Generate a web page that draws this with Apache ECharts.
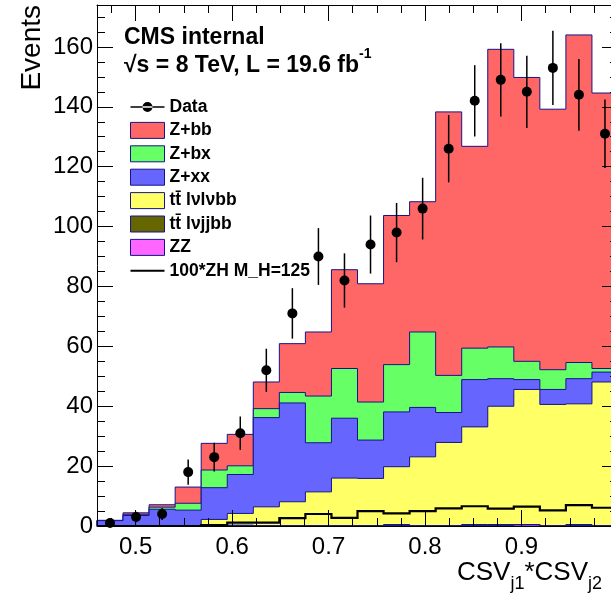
<!DOCTYPE html>
<html>
<head>
<meta charset="utf-8">
<script src="https://cdn.jsdelivr.net/npm/echarts@6/dist/echarts.min.js"></script>
<style>
  html, body { margin: 0; padding: 0; background: #ffffff; }
  #chart { width: 611px; height: 603px; }
</style>
</head>
<body>
<div id="chart"></div>
<script>
// Histogram binning of CSV_j1*CSV_j2 (20 bins from 0.46 to 1.0)
const binEdges = [0.460, 0.487, 0.514, 0.541, 0.568, 0.595, 0.622, 0.649, 0.676, 0.703,
                  0.730, 0.757, 0.784, 0.811, 0.838, 0.865, 0.892, 0.919, 0.946, 0.973, 1.000];

// Observed events per bin
const dataCounts = [1, 3, 4, 18, 23, 31, 52, 71, 90, 82, 94, 98, 106, 126, 142, 149, 145, 153, 144, 131];

// Simulated backgrounds per bin (events)
const zbb  = [0.1, 0.5, 0.8, 5.4, 8.9, 10.5, 8.9, 16.3, 21.4, 33.0, 39.5, 49.8, 43.5, 88.0, 67.4, 99.4, 94.8, 87.0, 109.4, 92.0];
const zbx  = [0.0, 0.4, 0.7, 2.3, 5.9, 2.9, 3.0, 3.5, 15.6, 16.6, 12.7, 15.8, 25.2, 12.4, 10.5, 10.6, 6.1, 6.6, 5.4, 1.2];
const zxx  = [1.8, 3.5, 5.6, 5.3, 10.6, 13.0, 29.8, 33.0, 16.4, 20.0, 12.8, 18.3, 16.5, 10.0, 15.8, 9.2, 3.3, 5.0, 8.4, 3.3];
const ttLL = [0, 0, 0, 0, 2.2, 3.9, 6.4, 8.1, 11.4, 16.0, 15.9, 19.3, 23.1, 27.9, 32.6, 39.5, 45.1, 40.6, 40.3, 48.1];
const ttLJ = [0, 0, 0, 0, 0, 0.3, 0, 0, 0, 0, 0, 0.5, 0, 0, 0.5, 0.5, 0, 0, 0.5, 0];
const zz   = [0, 0, 0, 0, 0, 0, 0, 0, 0, 0, 0, 0, 0, 0, 0, 0, 0.5, 0, 0, 0];

// Signal (ZH, M_H = 125 GeV) scaled by 100, not stacked
const zh100 = [0, 0, 0, 0, 0.3, 1.1, 1.1, 2.6, 4.0, 2.7, 5.0, 4.2, 5.0, 5.9, 6.6, 5.8, 6.5, 5.2, 7.0, 6.1];

// Axis ticks and labels
const xMajorTicks = [0.5, 0.6, 0.7, 0.8, 0.9, 1.0];
const xMinorTicks = [0.475, 0.525, 0.55, 0.575, 0.625, 0.65, 0.675, 0.725, 0.75, 0.775,
                     0.825, 0.85, 0.875, 0.925, 0.95, 0.975];
const xTickLabels = [0.5, 0.6, 0.7, 0.8, 0.9];
const yMajorTicks = [0, 20, 40, 60, 80, 100, 120, 140, 160];
const yMinorTicks = [5, 10, 15, 25, 30, 35, 45, 50, 55, 65, 70, 75, 85, 90, 95,
                     105, 110, 115, 125, 130, 135, 145, 150, 155, 165, 170];

const FONT = '"Liberation Sans", Arial, Helvetica, sans-serif';
const OUTLINE = '#14148c';

// Stack, bottom to top
const layers = [
  { name: 'ZZ',            values: zz,   color: '#ff66ff' },
  { name: 'tt\u0304 l\u03bdjjbb',   values: ttLJ, color: '#666600' },
  { name: 'tt\u0304 l\u03bdl\u03bdbb', values: ttLL, color: '#ffff66' },
  { name: 'Z+xx',          values: zxx,  color: '#6666ff' },
  { name: 'Z+bx',          values: zbx,  color: '#66ff66' },
  { name: 'Z+bb',          values: zbb,  color: '#ff6666' }
];
let running = new Array(dataCounts.length).fill(0);
layers.forEach(l => {
  running = running.map((v, i) => v + l.values[i]);
  l.cumulative = running.slice();
});

function stepOutline(api, tops, closeToZero) {
  const pts = [];
  if (closeToZero) pts.push(api.coord([binEdges[0], 0]));
  for (let i = 0; i < tops.length; i++) {
    pts.push(api.coord([binEdges[i], tops[i]]));
    pts.push(api.coord([binEdges[i + 1], tops[i]]));
  }
  if (closeToZero) pts.push(api.coord([binEdges[binEdges.length - 1], 0]));
  return pts;
}

// Drawn largest first so each smaller stack sits on top
const stackSeries = layers.slice().reverse().map(l => ({
  type: 'custom',
  name: l.name,
  coordinateSystem: 'cartesian2d',
  xAxisIndex: 0, yAxisIndex: 0,
  silent: true,
  data: [[binEdges[0], 0]],
  renderItem: (params, api) => ({
    type: 'polygon',
    shape: { points: stepOutline(api, l.cumulative, true) },
    style: { fill: l.color, stroke: OUTLINE, lineWidth: 1 }
  })
}));

const zhSeries = {
  type: 'custom',
  name: '100*ZH M_H=125',
  coordinateSystem: 'cartesian2d',
  xAxisIndex: 0, yAxisIndex: 0,
  silent: true,
  data: [[binEdges[0], 0]],
  renderItem: (params, api) => ({
    type: 'polyline',
    shape: { points: stepOutline(api, zh100, false) },
    style: { fill: null, stroke: '#000000', lineWidth: 2.2 }
  })
};

const binCenters = dataCounts.map((_, i) => (binEdges[i] + binEdges[i + 1]) / 2);
const dataSeries = {
  type: 'custom',
  name: 'Data',
  coordinateSystem: 'cartesian2d',
  xAxisIndex: 0, yAxisIndex: 0,
  silent: true,
  z: 5,
  data: dataCounts.map((c, i) => [binCenters[i], c]),
  renderItem: (params, api) => {
    const x = api.value(0), n = api.value(1), err = Math.sqrt(n);
    const p = api.coord([x, n]);
    const lo = api.coord([x, n - err]);
    const hi = api.coord([x, n + err]);
    return {
      type: 'group',
      children: [
        { type: 'line', shape: { x1: p[0], y1: lo[1], x2: p[0], y2: hi[1] },
          style: { stroke: '#000000', lineWidth: 1.5 } },
        { type: 'circle', shape: { cx: p[0], cy: p[1], r: 5 },
          style: { fill: '#000000' } }
      ]
    };
  }
};

function xAxisDef(position, ticks, len, withLine, withLabels) {
  return {
    type: 'value', position: position, min: binEdges[0], max: binEdges[binEdges.length - 1],
    z: 10,
    axisLine: { show: withLine, onZero: false, lineStyle: { color: '#000', width: 1 } },
    axisTick: { show: true, inside: true, length: len, customValues: ticks,
                lineStyle: { color: '#000', width: 1 } },
    axisLabel: withLabels ? { show: true, customValues: xTickLabels, margin: 9,
                              fontFamily: FONT, fontSize: 24, color: '#000',
                              formatter: v => v.toFixed(1) } : { show: false },
    splitLine: { show: false }
  };
}
function yAxisDef(position, ticks, len, withLine, withLabels) {
  return {
    type: 'value', position: position, min: 0, max: 174,
    z: 10,
    axisLine: { show: withLine, onZero: false, lineStyle: { color: '#000', width: 1 } },
    axisTick: { show: true, inside: true, length: len, customValues: ticks,
                lineStyle: { color: '#000', width: 1 } },
    axisLabel: withLabels ? { show: true, customValues: yMajorTicks, margin: 4,
                              fontFamily: FONT, fontSize: 24, color: '#000' } : { show: false },
    splitLine: { show: false }
  };
}

const dataIcon = 'path://M0,7.25L34,7.25L34,8.75L0,8.75Z M12,8A5,5,0,1,0,22,8A5,5,0,1,0,12,8Z';
const lineIcon = 'path://M0,7L34,7L34,9L0,9Z';

const option = {
  animation: false,
  backgroundColor: '#ffffff',
  grid: { left: 97, top: 5, width: 521, height: 521, outerBoundsMode: 'none', containLabel: false },
  xAxis: [
    xAxisDef('bottom', xMajorTicks, 16, true, true),
    xAxisDef('bottom', xMinorTicks, 8, false, false),
    xAxisDef('top', xMajorTicks, 16, true, false),
    xAxisDef('top', xMinorTicks, 8, false, false)
  ],
  yAxis: [
    yAxisDef('left', yMajorTicks, 16, true, true),
    yAxisDef('left', yMinorTicks, 8, false, false),
    yAxisDef('right', yMajorTicks, 16, true, false),
    yAxisDef('right', yMinorTicks, 8, false, false)
  ],
  legend: {
    orient: 'vertical', left: 125, top: 93,
    itemWidth: 34, itemHeight: 16, itemGap: 5.4,
    selectedMode: false,
    textStyle: { fontFamily: FONT, fontWeight: 'bold', fontSize: 17.5, color: '#000', lineHeight: 16 },
    data: [
      { name: 'Data', icon: dataIcon, itemStyle: { color: '#000', borderWidth: 0 } },
      ...layers.slice().reverse().map(l => ({
        name: l.name, icon: 'rect',
        itemStyle: { color: l.color, borderColor: OUTLINE, borderWidth: 1 }
      })),
      { name: '100*ZH M_H=125', icon: lineIcon, itemStyle: { color: '#000', borderWidth: 0 } }
    ]
  },
  graphic: [
    { type: 'text', x: 124, y: 38,
      style: { text: 'CMS internal', fontFamily: FONT, fontWeight: 'bold', fontSize: 23,
               fill: '#000', align: 'left', verticalAlign: 'middle' } },
    { type: 'text', x: 124, y: 62,
      style: { text: '{m|\u221As = 8 TeV, L = 19.6 fb}{s|-1}', align: 'left', verticalAlign: 'middle',
               rich: {
                 m: { fontFamily: FONT, fontWeight: 'bold', fontSize: 23, lineHeight: 30, verticalAlign: 'bottom', fill: '#000' },
                 s: { fontFamily: FONT, fontWeight: 'bold', fontSize: 14, lineHeight: 14, verticalAlign: 'top', fill: '#000' }
               } } },
    { type: 'text', x: 32, y: 5, rotation: Math.PI / 2,
      style: { text: 'Events', fontFamily: FONT, fontSize: 28, fill: '#000',
               align: 'right', verticalAlign: 'middle' } },
    { type: 'text', x: 457, y: 560,
      style: { text: '{a|CSV}{b|j1}{a|*CSV}{b|j2}', align: 'left', verticalAlign: 'top',
               rich: {
                 a: { fontFamily: FONT, fontSize: 26, lineHeight: 26, verticalAlign: 'top', fill: '#000' },
                 b: { fontFamily: FONT, fontSize: 18, lineHeight: 33, verticalAlign: 'bottom', fill: '#000' }
               } } }
  ],
  series: [...stackSeries, zhSeries, dataSeries]
};

const chart = echarts.init(document.getElementById('chart'), null, { renderer: 'canvas' });
chart.setOption(option);
</script>
</body>
</html>
